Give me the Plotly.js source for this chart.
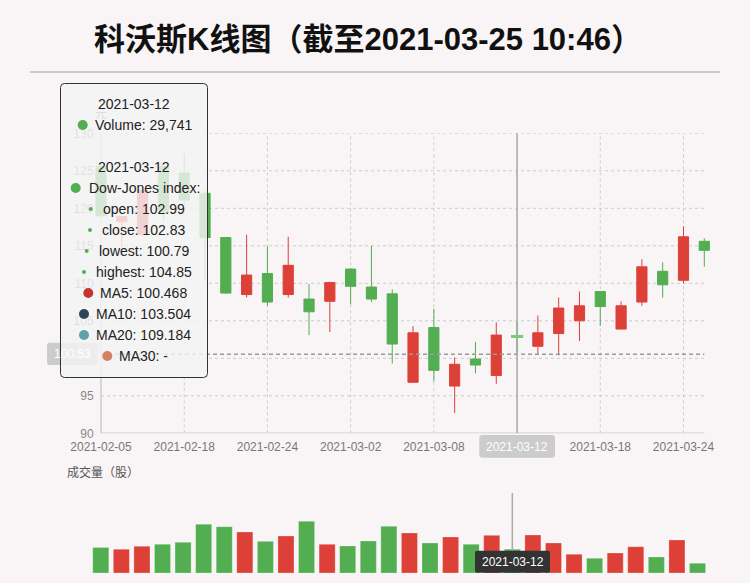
<!DOCTYPE html>
<html>
<head>
<meta charset="utf-8">
<script src="https://cdn.plot.ly/plotly-3.0.1.min.js"></script>
<style>html,body{margin:0;padding:0;background:#f9f5f6;}#chart{width:750px;height:583px;}</style>
</head>
<body>
<div id="chart"></div>
<script>
// ---------- data ----------
const dates = ["2021-02-05","2021-02-08","2021-02-09","2021-02-10","2021-02-18","2021-02-19","2021-02-22","2021-02-23","2021-02-24","2021-02-25","2021-02-26","2021-03-01","2021-03-02","2021-03-03","2021-03-04","2021-03-05","2021-03-08","2021-03-09","2021-03-10","2021-03-11","2021-03-12","2021-03-15","2021-03-16","2021-03-17","2021-03-18","2021-03-19","2021-03-22","2021-03-23","2021-03-24","2021-03-25"];
const openP  = [125.6,118.2,116.5,125.6,124.7,122.0,116.1,108.5,111.3,108.5,107.9,107.6,111.9,109.5,108.6,96.8,104.1,96.3,99.9,97.7,102.99,101.6,103.3,105.0,108.9,103.9,107.5,111.6,110.4,115.6];
const closeP = [119.0,118.9,122.4,119.3,121.1,116.1,108.7,111.1,107.5,112.4,106.2,110.1,109.6,107.9,101.9,103.4,98.4,99.2,99.1,103.1,102.83,103.4,106.7,107.0,106.9,107.0,112.2,109.8,116.2,114.4];
const lowP   = [118.9,114.9,116.2,118.4,120.5,110.4,108.6,108.1,107.0,108.1,103.1,103.5,107.2,107.5,99.3,96.8,96.9,92.7,98.0,96.6,100.79,100.6,100.4,102.3,104.3,103.9,107.0,108.1,110.0,112.2];
const highP  = [125.7,119.0,122.5,125.7,127.3,122.4,116.1,116.5,114.9,116.2,109.9,110.2,112.0,115.0,109.2,104.3,106.6,100.1,102.2,104.8,104.85,105.7,108.1,108.9,108.9,107.6,113.2,112.8,117.6,116.0];
const volumes = [31750,29600,33400,35900,38400,60900,57900,51250,39600,46250,64600,35900,33750,40000,58400,50000,37500,45000,35900,47100,29741,47500,37500,23400,18400,25000,32900,20000,41250,12100];
const xTickLabels = ["2021-02-05","2021-02-18","2021-02-24","2021-03-02","2021-03-08","2021-03-12","2021-03-18","2021-03-24"];
const yTicks = [90,95,100,105,110,115,120,125,130];
const titleText = "科沃斯K线图（截至2021-03-25 10:46）";
const selectedDate = "2021-03-12";
const pointerValue = 100.53;
const volumeTip = "29,741";
const ohlcNames = ["open","close","lowest","highest"];
const ohlcTip = ["102.99","102.83","100.79","104.85"];
const maNames = ["MA5","MA10","MA20","MA30"];
const maTip = ["100.468","103.504","109.184","-"];
const maColors = ["#c23531","#2f4554","#61a0a8","#d48265"];

// ---------- styles ----------
const RED = "#dd4037", GREEN = "#52ae50", GREEN_EMPH = "#72cf72";
const W = 750, H = 583;
const px = x => x / W;
const py = y => 1 - y / H;
const selIdx = dates.indexOf(selectedDate);

const candles = {
  type: "candlestick", x: dates, open: openP, close: closeP, low: lowP, high: highP,
  xaxis: "x", yaxis: "y",
  increasing: {line: {color: RED, width: 1}, fillcolor: RED},
  decreasing: {line: {color: GREEN, width: 1}, fillcolor: GREEN},
  whiskerwidth: 0, hoverinfo: "skip", showlegend: false
};
const emph = {
  type: "candlestick", x: [dates[selIdx]], open: [openP[selIdx]], close: [closeP[selIdx]],
  low: [lowP[selIdx]], high: [highP[selIdx]], xaxis: "x", yaxis: "y",
  increasing: {line: {color: GREEN_EMPH, width: 2}, fillcolor: GREEN_EMPH},
  decreasing: {line: {color: GREEN_EMPH, width: 2}, fillcolor: GREEN_EMPH},
  whiskerwidth: 0, hoverinfo: "skip", showlegend: false
};
const volColors = dates.map((d, i) => closeP[i] >= openP[i] ? RED : GREEN);
const vol = {
  type: "bar", x: dates, y: volumes, xaxis: "x2", yaxis: "y2",
  marker: {color: volColors, line: {width: 1, color: "rgba(255,255,255,0.25)"}},
  hoverinfo: "skip", showlegend: false
};

const shapes = [];
// horizontal grid
yTicks.forEach(v => {
  if (v === 90) return;
  shapes.push({type: "line", xref: "x", yref: "y", x0: 0, x1: dates.length - 1, y0: v, y1: v,
    line: {color: "#cccccc", width: 1, dash: "3px,3px"}, layer: "below"});
});
// vertical grid
xTickLabels.forEach(lbl => {
  const i = dates.indexOf(lbl);
  if (i <= 0) return;
  shapes.push({type: "line", xref: "x", yref: "y", x0: i, x1: i, y0: 90, y1: 130,
    line: {color: "#cccccc", width: 1, dash: "3px,3px"}, layer: "below"});
});
// axis lines
shapes.push({type: "line", xref: "x", yref: "y", x0: 0, x1: dates.length - 1, y0: 90, y1: 90,
  line: {color: "#cccccc", width: 1.5}, layer: "below"});
shapes.push({type: "line", xref: "x", yref: "y", x0: 0, x1: 0, y0: 90, y1: 130,
  line: {color: "#cccccc", width: 1.5}, layer: "below"});
// title underline
shapes.push({type: "line", xref: "paper", yref: "paper", x0: px(30), x1: px(720), y0: py(72), y1: py(72),
  line: {color: "#c8c8c8", width: 2}});
// pointer lines
shapes.push({type: "line", xref: "x", yref: "y", x0: 0, x1: dates.length - 1, y0: pointerValue, y1: pointerValue,
  line: {color: "#9a9a9a", width: 1.5, dash: "4px,3px"}, layer: "above"});
shapes.push({type: "line", xref: "x", yref: "y", x0: selIdx, x1: selIdx, y0: 90, y1: 130,
  line: {color: "#aaaaaa", width: 1.5}, layer: "above"});
shapes.push({type: "line", xref: "x2", yref: "paper", x0: selIdx, x1: selIdx, y0: py(551), y1: py(493),
  line: {color: "#aaaaaa", width: 1.5}, layer: "above"});

function rrect(x0, y0, x1, y1, r) {
  const X = px, Y = py;
  return `M ${X(x0 + r)},${Y(y0)} L ${X(x1 - r)},${Y(y0)} Q ${X(x1)},${Y(y0)} ${X(x1)},${Y(y0 + r)} ` +
    `L ${X(x1)},${Y(y1 - r)} Q ${X(x1)},${Y(y1)} ${X(x1 - r)},${Y(y1)} L ${X(x0 + r)},${Y(y1)} ` +
    `Q ${X(x0)},${Y(y1)} ${X(x0)},${Y(y1 - r)} L ${X(x0)},${Y(y0 + r)} Q ${X(x0)},${Y(y0)} ${X(x0 + r)},${Y(y0)} Z`;
}
// pointer label boxes
shapes.push({type: "path", xref: "paper", yref: "paper", path: rrect(47, 342.7, 98, 365, 3),
  fillcolor: "#cccccc", line: {width: 0}, layer: "above"});
shapes.push({type: "path", xref: "paper", yref: "paper", path: rrect(479.3, 435, 555, 457.7, 3),
  fillcolor: "#cccccc", line: {width: 0}, layer: "above"});
shapes.push({type: "path", xref: "paper", yref: "paper", path: rrect(475, 550.7, 550, 572.7, 2),
  fillcolor: "#333333", line: {width: 0}, layer: "above"});
// tooltip box
shapes.push({type: "path", xref: "paper", yref: "paper", path: rrect(60.5, 83.5, 207.5, 377.5, 4),
  fillcolor: "rgba(244,244,244,0.82)", line: {color: "#333333", width: 1}, layer: "above"});

const annotations = [];
function txt(x, y, text, opts) {
  annotations.push(Object.assign({xref: "paper", yref: "paper", x: px(x), y: py(y), text: text,
    showarrow: false, xanchor: "left", yanchor: "middle",
    font: {family: "Liberation Sans, Arial, sans-serif", size: 14, color: "#222"}}, opts || {}));
}
function dot(cx, cy, r, color) {
  shapes.push({type: "circle", xref: "paper", yref: "paper", x0: px(cx - r), x1: px(cx + r), y0: py(cy + r), y1: py(cy - r),
    fillcolor: color, line: {width: 0}, layer: "above"});
}
// pointer label texts
txt(72.5, 354, String(pointerValue), {xanchor: "center", font: {family: "Liberation Sans, Arial", size: 12, color: "#ffffff"}});
txt(517, 446.5, selectedDate, {xanchor: "center", font: {family: "Liberation Sans, Arial", size: 12, color: "#ffffff"}});
txt(512.5, 561.7, selectedDate, {xanchor: "center", font: {family: "Liberation Sans, Arial", size: 12, color: "#ffffff"}});
// axis names
txt(101, 112, "元", {xanchor: "center", font: {family: "Noto Sans CJK SC", size: 12, color: "#dcdcdc"}});
txt(65, 471, "成交量（股）", {font: {family: "Noto Sans CJK SC", size: 12, color: "#555"}});

// tooltip
txt(134, 104, selectedDate, {xanchor: "center"});
dot(82.7, 125, 5, GREEN); txt(93, 125, "Volume: " + volumeTip);
txt(134, 167, selectedDate, {xanchor: "center"});
dot(75.7, 188, 5, GREEN); txt(86.7, 188, "Dow-Jones index:");
const ohlcDotX = [90.7, 90, 86.7, 84], ohlcTxtX = [101, 100, 96.7, 94];
ohlcNames.forEach((n, k) => {
  const y = 209 + 21 * k;
  dot(ohlcDotX[k], y, 2, GREEN);
  txt(ohlcTxtX[k], y, n + ": " + ohlcTip[k]);
});
const maDotX = [88.3, 84, 84, 107.3], maTxtX = [98, 94, 94, 117];
maNames.forEach((n, k) => {
  const y = 293 + 21 * k;
  dot(maDotX[k], y, 5, maColors[k]);
  txt(maTxtX[k], y, n + ": " + maTip[k]);
});

const layout = {
  width: W, height: H,
  margin: {l: 0, r: 0, t: 0, b: 0},
  paper_bgcolor: "#f9f5f6", plot_bgcolor: "rgba(0,0,0,0)",
  showlegend: false, hovermode: false,
  boxgap: 0.3, boxgroupgap: 0.3, bargap: 0.22,
  title: {text: titleText, x: px(368), xanchor: "center", y: py(39), yanchor: "middle",
    font: {family: "Liberation Sans, Noto Sans CJK SC, sans-serif", size: 31, color: "#111", weight: "bold"}},
  xaxis: {type: "category", domain: [px(90.6), px(714.7)], anchor: "y", range: [-0.5, dates.length - 0.5],
    tickmode: "array", tickvals: xTickLabels, ticktext: xTickLabels, showgrid: false, zeroline: false,
    showline: false, ticks: "", rangeslider: {visible: false}, fixedrange: true, ticklabelstandoff: 5,
    tickfont: {family: "Liberation Sans, Arial", size: 12, color: "#777"}},
  yaxis: {domain: [py(433.3), py(133.3)], anchor: "x", range: [90, 130], tickvals: yTicks,
    showgrid: false, zeroline: false, showline: false, ticks: "", ticklabelstandoff: -4,
    tickfont: {family: "Liberation Sans, Arial", size: 12, color: "#888"}},
  xaxis2: {type: "category", domain: [px(90.5), px(707.8)], anchor: "y2", range: [-0.5, dates.length - 0.5],
    showticklabels: false, showgrid: false, zeroline: false, showline: false, ticks: ""},
  yaxis2: {domain: [py(573), py(493)], anchor: "x2", range: [0, 100000],
    showticklabels: false, showgrid: false, zeroline: false, showline: false, ticks: ""},
  shapes: shapes, annotations: annotations
};

Plotly.newPlot("chart", [candles, emph, vol], layout, {displayModeBar: false, staticPlot: true});
</script>
</body>
</html>
